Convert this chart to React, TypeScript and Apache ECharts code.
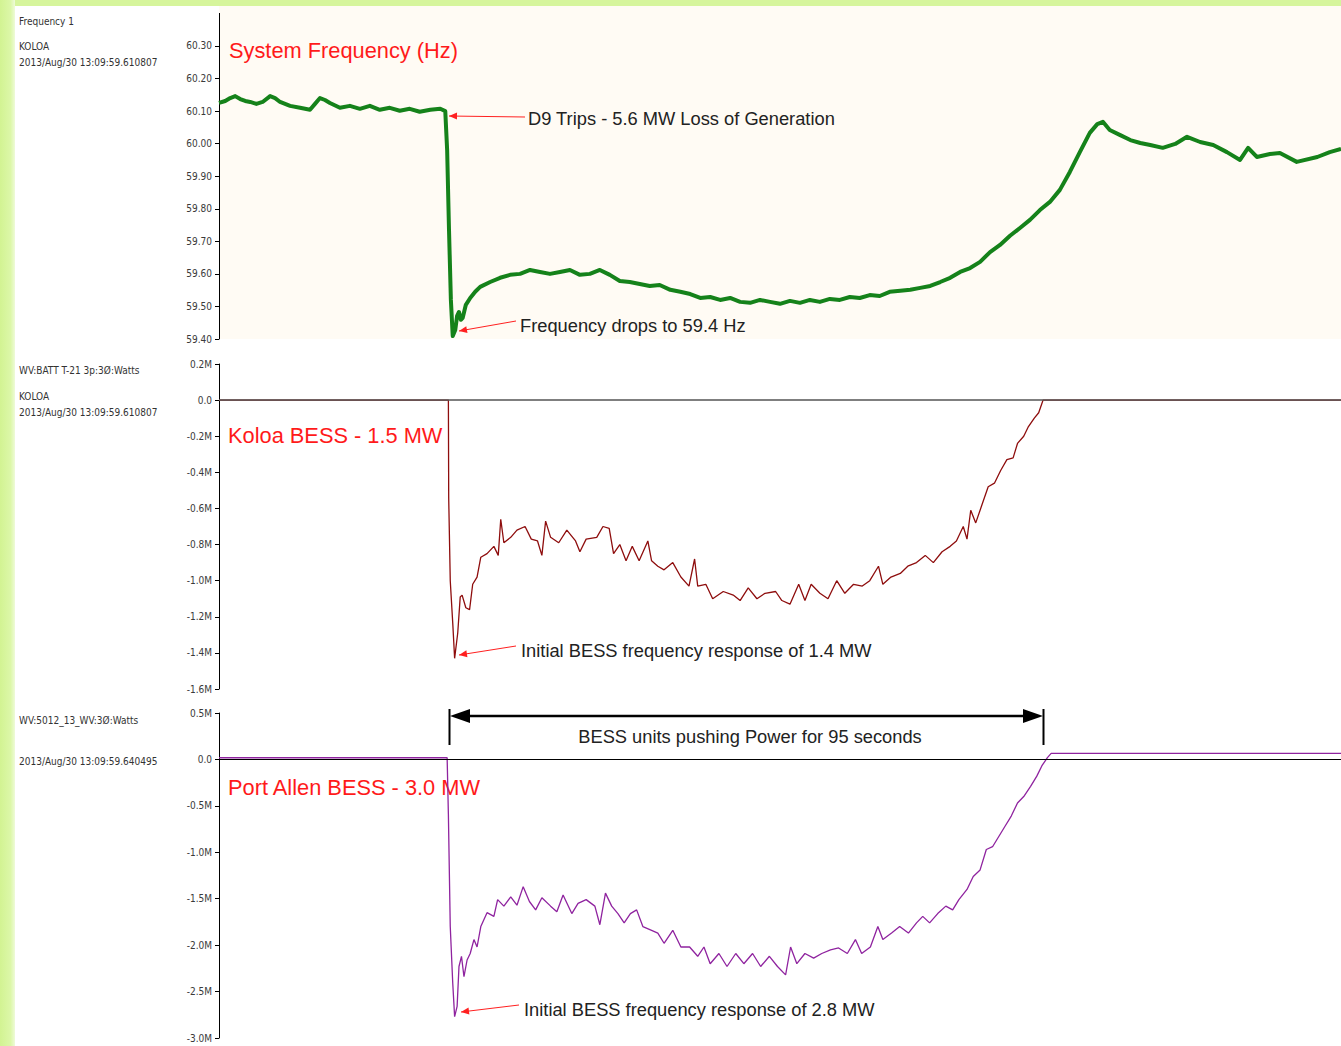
import React, { useEffect, useRef } from "react";
import * as echarts from "echarts";

// ---------- data (time in seconds from start of record) ----------
const freqData: [number, number][] = [
  [0, 60.125], [1.0, 60.131], [1.8, 60.14], [2.6, 60.146], [3.4, 60.137], [4.2, 60.131], [5.0, 60.128],
  [6.0, 60.122], [7.0, 60.128], [8.2, 60.146], [9.0, 60.14], [9.8, 60.128], [11.4, 60.116], [13.0, 60.11],
  [14.6, 60.104], [15.4, 60.122], [16.2, 60.14], [17.0, 60.134], [17.8, 60.125], [19.4, 60.11], [21.0, 60.116],
  [22.6, 60.107], [24.2, 60.116], [25.8, 60.104], [27.4, 60.11], [29.0, 60.101], [30.6, 60.107], [32.2, 60.098],
  [33.9, 60.104], [35.5, 60.107], [36.3, 60.1],
  [36.6, 59.981], [36.9, 59.735], [37.2, 59.52], [37.5, 59.409], [37.9, 59.428], [38.2, 59.471], [38.5, 59.483],
  [38.8, 59.459], [39.1, 59.465], [39.6, 59.505], [40.3, 59.526], [41.1, 59.545], [41.9, 59.56], [43.5, 59.575],
  [45.1, 59.588], [46.7, 59.597], [48.3, 59.6], [49.9, 59.612], [51.5, 59.606], [53.1, 59.6], [54.7, 59.606],
  [56.3, 59.612], [57.9, 59.597], [59.5, 59.6], [61.1, 59.612], [62.7, 59.597], [64.3, 59.578], [65.9, 59.575],
  [67.5, 59.569], [69.1, 59.563], [70.7, 59.566], [72.4, 59.551], [74.0, 59.545], [75.6, 59.538], [77.2, 59.526],
  [78.8, 59.529], [80.4, 59.52], [82.0, 59.526], [83.6, 59.514], [85.2, 59.511], [86.8, 59.52], [88.4, 59.514],
  [90.0, 59.508], [91.6, 59.517], [93.2, 59.511], [94.8, 59.52], [96.4, 59.514], [98.0, 59.523], [99.6, 59.52],
  [101.2, 59.529], [102.8, 59.526], [104.4, 59.535], [106.0, 59.532], [107.6, 59.545], [109.3, 59.548],
  [110.9, 59.551], [112.5, 59.557], [114.1, 59.563], [115.7, 59.575], [117.3, 59.588], [118.9, 59.606],
  [120.5, 59.618], [122.1, 59.637], [123.7, 59.667], [125.3, 59.689], [126.9, 59.717], [128.5, 59.741],
  [130.1, 59.766], [131.7, 59.796], [133.3, 59.821], [134.9, 59.858], [136.5, 59.913], [138.1, 59.974],
  [139.7, 60.033], [140.9, 60.06], [141.8, 60.067], [142.9, 60.042], [144.5, 60.027], [146.2, 60.011],
  [147.8, 60.002], [149.4, 59.996], [151.4, 59.987], [153.4, 59.999], [155.3, 60.021], [157.4, 60.005],
  [159.5, 59.996], [161.7, 59.974], [163.8, 59.95], [165.1, 59.987], [166.5, 59.959], [168.6, 59.968],
  [170.2, 59.971], [172.9, 59.944], [176.2, 59.959], [178.2, 59.974], [180, 59.984],
];

// Koloa BESS power, MW
const koloaData: [number, number][] = [
  [0, 0], [36.8, 0], [36.85, -0.54], [37.1, -1.0], [37.5, -1.235], [37.8, -1.43], [38.3, -1.29], [38.7, -1.09],
  [39.0, -1.08], [39.6, -1.15], [40.2, -1.16], [40.7, -1.02], [41.4, -0.98], [42.0, -0.87], [43.0, -0.85],
  [44.1, -0.81], [44.8, -0.86], [45.2, -0.66], [45.7, -0.79], [46.8, -0.76], [47.8, -0.72], [49.1, -0.7],
  [50.1, -0.77], [51.1, -0.78], [51.8, -0.86], [52.4, -0.67], [53.2, -0.76], [54.5, -0.79], [55.8, -0.72],
  [57.2, -0.78], [57.9, -0.84], [58.9, -0.77], [60.6, -0.76], [61.6, -0.7], [62.6, -0.71], [63.3, -0.85],
  [64.3, -0.8], [65.3, -0.89], [66.3, -0.81], [67.4, -0.89], [68.8, -0.78], [69.4, -0.89], [70.4, -0.92],
  [71.4, -0.94], [72.8, -0.9], [74.1, -0.98], [75.4, -1.03], [76.3, -0.88], [76.8, -1.03], [78.1, -1.02],
  [79.2, -1.1], [80.9, -1.06], [82.5, -1.08], [83.6, -1.11], [84.9, -1.04], [86.3, -1.1], [87.6, -1.07],
  [89.3, -1.06], [90.3, -1.11], [91.6, -1.13], [93.0, -1.02], [94.0, -1.11], [95.0, -1.02], [96.4, -1.07],
  [97.7, -1.1], [99.1, -1.0], [100.4, -1.07], [101.8, -1.02], [103.2, -1.03], [104.4, -1.0], [105.8, -0.92],
  [106.5, -1.02], [107.8, -0.98], [109.3, -0.96], [110.5, -0.92], [111.9, -0.9], [113.3, -0.86], [114.6, -0.9],
  [116.0, -0.84], [117.3, -0.81], [118.3, -0.78], [119.4, -0.7], [120.0, -0.77], [120.6, -0.61], [121.4, -0.68],
  [122.4, -0.58], [123.4, -0.48], [124.4, -0.46], [125.4, -0.39], [126.4, -0.33], [127.4, -0.32], [128.1, -0.24],
  [129.1, -0.2], [129.8, -0.15], [130.8, -0.1], [131.5, -0.07], [132.0, -0.02], [132.2, 0], [180, 0],
];

// Port Allen BESS power, MW
const portAllenData: [number, number][] = [
  [0, 0.018], [36.6, 0.018], [36.8, -0.59], [37.1, -1.8], [37.5, -2.41], [37.8, -2.77], [38.2, -2.66],
  [38.5, -2.23], [38.9, -2.12], [39.3, -2.34], [39.8, -2.16], [40.3, -2.09], [40.9, -1.94], [41.4, -2.02],
  [42.0, -1.8], [43.0, -1.65], [44.1, -1.69], [44.7, -1.51], [45.7, -1.58], [46.8, -1.48], [47.8, -1.57],
  [48.8, -1.37], [49.8, -1.53], [50.8, -1.62], [51.8, -1.49], [53.2, -1.58], [54.2, -1.64], [55.2, -1.46],
  [56.6, -1.66], [57.6, -1.55], [58.9, -1.51], [60.3, -1.58], [61.1, -1.78], [62.0, -1.44], [63.0, -1.58],
  [64.0, -1.66], [65.0, -1.76], [66.0, -1.66], [67.0, -1.62], [68.0, -1.8], [69.4, -1.84], [70.4, -1.87],
  [71.4, -1.98], [72.8, -1.84], [74.1, -2.02], [75.5, -2.02], [76.8, -2.12], [77.8, -2.02], [78.8, -2.2],
  [80.2, -2.09], [81.5, -2.23], [82.9, -2.09], [84.2, -2.2], [85.6, -2.09], [86.9, -2.23], [88.3, -2.12],
  [89.6, -2.23], [90.9, -2.32], [91.7, -2.02], [92.7, -2.2], [94.0, -2.09], [95.4, -2.14], [96.7, -2.09],
  [98.1, -2.05], [99.4, -2.03], [100.8, -2.09], [102.1, -1.94], [103.1, -2.09], [104.5, -2.02], [105.7, -1.8],
  [106.5, -1.94], [107.9, -1.87], [109.2, -1.8], [110.6, -1.87], [111.9, -1.76], [112.9, -1.69], [114.0, -1.76],
  [115.3, -1.66], [116.6, -1.58], [117.7, -1.62], [118.7, -1.51], [120.0, -1.4], [121.0, -1.26], [122.1, -1.19],
  [123.1, -0.97], [124.1, -0.94], [125.1, -0.83], [126.1, -0.72], [127.1, -0.61], [128.1, -0.47], [129.1, -0.4],
  [130.2, -0.29], [131.2, -0.18], [132.0, -0.07], [132.9, 0.02], [133.5, 0.065], [180, 0.065],
];

const freqTicks = [59.4, 59.5, 59.6, 59.7, 59.8, 59.9, 60.0, 60.1, 60.2, 60.3];
const koloaTicks = [-1.6, -1.4, -1.2, -1.0, -0.8, -0.6, -0.4, -0.2, 0, 0.2];
const portTicks = [-3.0, -2.5, -2.0, -1.5, -1.0, -0.5, 0, 0.5];

const panelTitles = ["System Frequency (Hz)", "Koloa BESS - 1.5 MW", "Port Allen BESS - 3.0 MW"];
const annotations = [
  "D9 Trips - 5.6 MW Loss of Generation",
  "Frequency drops to 59.4 Hz",
  "Initial BESS frequency response of 1.4 MW",
  "BESS units pushing Power for 95 seconds",
  "Initial BESS frequency response of 2.8 MW",
];
const sideLabels = [
  ["Frequency 1", "KOLOA", "2013/Aug/30 13:09:59.610807"],
  ["WV:BATT T-21 3p:3Ø:Watts", "KOLOA", "2013/Aug/30 13:09:59.610807"],
  ["WV:5012_13_WV:3Ø:Watts", "2013/Aug/30 13:09:59.640495"],
];

const SANS = '"Liberation Sans", Arial, sans-serif';
const NARROW = '"Liberation Sans Narrow", "DejaVu Sans Condensed", "Liberation Sans", sans-serif';

function arrowHead(x1: number, y1: number, x2: number, y2: number, len: number, half: number, color: string) {
  const dx = x2 - x1, dy = y2 - y1;
  const d = Math.hypot(dx, dy);
  const ux = dx / d, uy = dy / d;
  const bx = x2 - ux * len, by = y2 - uy * len;
  return {
    type: "polygon",
    shape: { points: [[x2, y2], [bx - uy * half, by + ux * half], [bx + uy * half, by - ux * half]] },
    style: { fill: color },
    silent: true,
  };
}
function arrow(x1: number, y1: number, x2: number, y2: number, color: string, w: number, len: number, half: number) {
  return [
    { type: "line", shape: { x1, y1, x2, y2 }, style: { stroke: color, lineWidth: w }, silent: true },
    arrowHead(x1, y1, x2, y2, len, half, color),
  ];
}
function txt(text: string, x: number, y: number, size: number, fill: string, family = SANS, align = "left") {
  return {
    type: "text", x, y, silent: true,
    style: { text, fontSize: size, fontFamily: family, fill, align, verticalAlign: "middle" },
  };
}

export default function App() {
  const ref = useRef<HTMLDivElement>(null);
  useEffect(() => {
    if (!ref.current) return;
    const chart = echarts.init(ref.current, undefined, { renderer: "svg" });
    const W = 1122;
    const grids = [
      { left: 219, top: 13.4, width: W, height: 325.6 },
      { left: 219, top: 364, width: W, height: 325 },
      { left: 219, top: 713, width: W, height: 325 },
    ];
    const yBase = (min: number, max: number, ticks: number[], fmt: (v: number) => string, idx: number) => ({
      type: "value", gridIndex: idx, min, max,
      axisLine: { show: true, lineStyle: { color: "#000", width: 1 } },
      axisTick: { show: true, length: 4, lineStyle: { color: "#000" }, customValues: ticks },
      splitLine: { show: false },
      axisLabel: { fontSize: 10, color: "#3a3a3a", fontFamily: NARROW, margin: 7, customValues: ticks, formatter: fmt },
    });
    const mfmt = (v: number) => (Math.abs(v) < 1e-9 ? "0.0" : v.toFixed(1) + "M");
    const A = 18.3;
    const T = 21.8;
    const graphic: any[] = [
      { type: "rect", shape: { x: 0, y: 0, width: 1341, height: 6 }, style: { fill: "#d6f59c" }, z: -10, silent: true },
      {
        type: "rect", shape: { x: 0, y: 0, width: 15, height: 1046 }, z: -10, silent: true,
        style: { fill: new echarts.graphic.LinearGradient(0, 0, 1, 0, [{ offset: 0, color: "#d2f392" }, { offset: 0.7, color: "#dcf7a8" }, { offset: 1, color: "#eefbd8" }]) },
      },
      { type: "rect", shape: { x: 219, y: 6, width: 1122, height: 333 }, style: { fill: "#fffbf4" }, z: -10, silent: true },
      // side labels
      txt(sideLabels[0][0], 19, 21, 10, "#333", NARROW),
      txt(sideLabels[0][1], 19, 46, 10, "#333", NARROW),
      txt(sideLabels[0][2], 19, 62, 10, "#333", NARROW),
      txt(sideLabels[1][0], 19, 370, 10, "#333", NARROW),
      txt(sideLabels[1][1], 19, 396, 10, "#333", NARROW),
      txt(sideLabels[1][2], 19, 412, 10, "#333", NARROW),
      txt(sideLabels[2][0], 19, 720, 10, "#333", NARROW),
      txt(sideLabels[2][1], 19, 761, 10, "#333", NARROW),
      // panel titles
      txt(panelTitles[0], 229, 50, T, "#ff1a1a"),
      txt(panelTitles[1], 228, 435, T, "#ff1a1a"),
      txt(panelTitles[2], 228, 787, T, "#ff1a1a"),
      // annotations
      txt(annotations[0], 528, 118, A, "#222"),
      ...arrow(525, 117, 449, 116, "#ff2020", 1, 8, 3.5),
      txt(annotations[1], 520, 325, A, "#222"),
      ...arrow(516, 321, 459, 331, "#ff2020", 1, 8, 3.5),
      txt(annotations[2], 521, 650, A, "#222"),
      ...arrow(516, 646, 459, 655, "#ff2020", 1, 8, 3.5),
      txt(annotations[4], 524, 1009, A, "#222"),
      ...arrow(519, 1005, 461, 1012, "#ff2020", 1, 8, 3.5),
      txt(annotations[3], 750, 736, A, "#222", SANS, "center"),
      { type: "line", shape: { x1: 462, y1: 716, x2: 1030, y2: 716 }, style: { stroke: "#000", lineWidth: 2.5 }, silent: true },
      arrowHead(1000, 716, 450, 716, 20, 7, "#000"),
      arrowHead(500, 716, 1043, 716, 20, 7, "#000"),
      { type: "line", shape: { x1: 449.5, y1: 709, x2: 449.5, y2: 745 }, style: { stroke: "#000", lineWidth: 2 }, silent: true },
      { type: "line", shape: { x1: 1043.5, y1: 709, x2: 1043.5, y2: 745 }, style: { stroke: "#000", lineWidth: 2 }, silent: true },
    ];
    chart.setOption({
      animation: false,
      backgroundColor: "#fff",
      grid: grids,
      xAxis: [0, 1, 2].map((i) => ({ type: "value", gridIndex: i, min: 0, max: 180, show: false })),
      yAxis: [
        yBase(59.4, 60.4, freqTicks, (v: number) => v.toFixed(2), 0),
        yBase(-1.6, 0.2, koloaTicks, mfmt, 1),
        yBase(-3.0, 0.5, portTicks, mfmt, 2),
      ],
      graphic,
      series: [
        {
          type: "line", xAxisIndex: 0, yAxisIndex: 0, data: freqData, showSymbol: false,
          lineStyle: { color: "#15821a", width: 4, join: "round" },
        },
        {
          type: "line", xAxisIndex: 1, yAxisIndex: 1, data: koloaData, showSymbol: false, z: 3,
          lineStyle: { color: "#8e0d0d", width: 1.3 },
          markLine: {
            silent: true, symbol: "none", label: { show: false },
            lineStyle: { color: "#555", width: 1.5, type: "solid" },
            data: [{ yAxis: 0 }],
          },
        },
        {
          type: "line", xAxisIndex: 2, yAxisIndex: 2, data: portAllenData, showSymbol: false, z: 3,
          lineStyle: { color: "#8f239f", width: 1.3 },
          markLine: {
            silent: true, symbol: "none", label: { show: false },
            lineStyle: { color: "#000", width: 1.2, type: "solid" },
            data: [{ yAxis: 0 }],
          },
        },
      ],
    });
    return () => chart.dispose();
  }, []);
  return <div ref={ref} style={{ position: "absolute", left: 0, top: 0, width: 1341, height: 1046 }} />;
}
